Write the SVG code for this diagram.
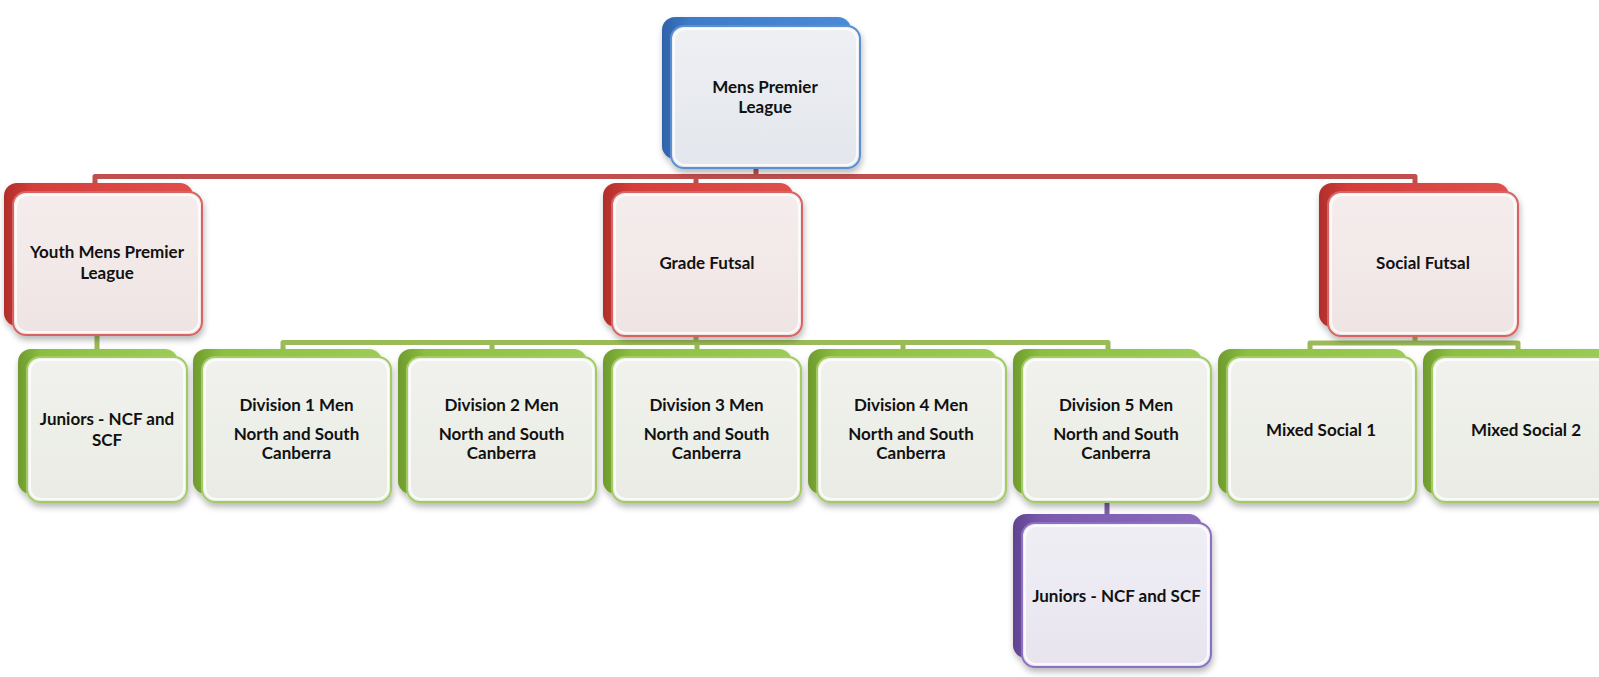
<svg xmlns="http://www.w3.org/2000/svg" width="1599" height="677" viewBox="0 0 1599 677">
<defs>
<filter id="sh" x="-10%" y="-10%" width="125%" height="130%">
<feDropShadow dx="1" dy="4" stdDeviation="3" flood-color="#000" flood-opacity="0.28"/>
</filter>
<linearGradient id="fB" x1="0" y1="0" x2="0" y2="1"><stop offset="0" stop-color="#eef0f4"/><stop offset="1" stop-color="#e3e6ec"/></linearGradient>
<linearGradient id="fR" x1="0" y1="0" x2="0" y2="1"><stop offset="0" stop-color="#f5eded"/><stop offset="1" stop-color="#efe4e4"/></linearGradient>
<linearGradient id="fG" x1="0" y1="0" x2="0" y2="1"><stop offset="0" stop-color="#f1f2ed"/><stop offset="1" stop-color="#e9ebe4"/></linearGradient>
<linearGradient id="fP" x1="0" y1="0" x2="0" y2="1"><stop offset="0" stop-color="#f0eef5"/><stop offset="1" stop-color="#e7e4ee"/></linearGradient>
<linearGradient id="bB" x1="0" y1="0" x2="1" y2="0"><stop offset="0" stop-color="#2f62a8"/><stop offset="0.15" stop-color="#3d7cc9"/><stop offset="1" stop-color="#4a8ad6"/></linearGradient>
<linearGradient id="bR" x1="0" y1="0" x2="1" y2="0"><stop offset="0" stop-color="#b02e2b"/><stop offset="0.15" stop-color="#d43d39"/><stop offset="1" stop-color="#e0504c"/></linearGradient>
<linearGradient id="bG" x1="0" y1="0" x2="1" y2="0"><stop offset="0" stop-color="#6f9a2e"/><stop offset="0.15" stop-color="#8cbf3f"/><stop offset="1" stop-color="#9ccc55"/></linearGradient>
<linearGradient id="bP" x1="0" y1="0" x2="1" y2="0"><stop offset="0" stop-color="#5f4290"/><stop offset="0.15" stop-color="#7a59ad"/><stop offset="1" stop-color="#8a6cbc"/></linearGradient>
</defs>
<style>
.t{font-family:Lato,"Liberation Sans",sans-serif;font-weight:bold;font-size:17px;fill:#111;text-anchor:middle}
.c{fill:none;stroke-width:5;stroke-linejoin:round;stroke-linecap:butt}
.cr{stroke:#c0504d}
.cg{stroke:#9bbb59}
.cp{stroke:#7d5fa8}
.hl{fill:none;stroke:#ffffff;stroke-opacity:0.75;stroke-width:2}
.sB{stroke:#5a8fd2;stroke-width:2}
.sR{stroke:#d96461;stroke-width:2}
.sG{stroke:#a2cb62;stroke-width:2}
.sP{stroke:#8d70c2;stroke-width:2}
</style>

<g id="connectors">
<path class="c cr" d="M95,183 V176.5 H1415 V183 M756,168 V176.5 M696,176.5 V183"/>
<path class="c cg" d="M97,335 V350 M696,336 V342.5 M283,350 V342.5 H1108 V350 M492,342.5 V350 M697,342.5 V350 M903,342.5 V350 M1415,336 V343 M1310,350 V343 H1518 V350"/>
<path class="c cp" d="M1107,502 V515"/>
</g>

<g id="node-mens-premier-league">
<g filter="url(#sh)">
<rect x="662" y="17" width="189" height="142" rx="13" fill="url(#bB)"/>
<rect x="671" y="26" width="189" height="142" rx="13" fill="url(#fB)" class="sB"/>
</g>
<rect class="hl" x="674" y="29" width="183" height="136" rx="11"/>
<text class="t" x="765" y="93">Mens Premier</text>
<text class="t" x="765" y="113">League</text>
</g>

<g id="node-youth-mens-premier-league">
<g filter="url(#sh)">
<rect x="4" y="183" width="189" height="143" rx="13" fill="url(#bR)"/>
<rect x="13" y="192" width="189" height="143" rx="13" fill="url(#fR)" class="sR"/>
</g>
<rect class="hl" x="16" y="195" width="183" height="137" rx="11"/>
<text class="t" x="107" y="258">Youth Mens Premier</text>
<text class="t" x="107" y="279">League</text>
</g>

<g id="node-grade-futsal">
<g filter="url(#sh)">
<rect x="603" y="183" width="190" height="144" rx="13" fill="url(#bR)"/>
<rect x="612" y="192" width="190" height="144" rx="13" fill="url(#fR)" class="sR"/>
</g>
<rect class="hl" x="615" y="195" width="184" height="138" rx="11"/>
<text class="t" x="707" y="269">Grade Futsal</text>
</g>

<g id="node-social-futsal">
<g filter="url(#sh)">
<rect x="1319" y="183" width="190" height="144" rx="13" fill="url(#bR)"/>
<rect x="1328" y="192" width="190" height="144" rx="13" fill="url(#fR)" class="sR"/>
</g>
<rect class="hl" x="1331" y="195" width="184" height="138" rx="11"/>
<text class="t" x="1423" y="269">Social Futsal</text>
</g>

<g id="node-juniors-youth">
<g filter="url(#sh)">
<rect x="18" y="349" width="160" height="145" rx="13" fill="url(#bG)"/>
<rect x="27" y="357" width="160" height="145" rx="13" fill="url(#fG)" class="sG"/>
</g>
<rect class="hl" x="30" y="360" width="154" height="139" rx="11"/>
<text class="t" x="107" y="425">Juniors - NCF and</text>
<text class="t" x="107" y="446">SCF</text>
</g>

<g id="node-division-1">
<g filter="url(#sh)">
<rect x="193" y="349" width="189" height="145" rx="13" fill="url(#bG)"/>
<rect x="202" y="357" width="189" height="145" rx="13" fill="url(#fG)" class="sG"/>
</g>
<rect class="hl" x="205" y="360" width="183" height="139" rx="11"/>
<text class="t" x="296.5" y="411">Division 1 Men</text>
<text class="t" x="296.5" y="440">North and South</text>
<text class="t" x="296.5" y="459">Canberra</text>
</g>

<g id="node-division-2">
<g filter="url(#sh)">
<rect x="398" y="349" width="189" height="145" rx="13" fill="url(#bG)"/>
<rect x="407" y="357" width="189" height="145" rx="13" fill="url(#fG)" class="sG"/>
</g>
<rect class="hl" x="410" y="360" width="183" height="139" rx="11"/>
<text class="t" x="501.5" y="411">Division 2 Men</text>
<text class="t" x="501.5" y="440">North and South</text>
<text class="t" x="501.5" y="459">Canberra</text>
</g>

<g id="node-division-3">
<g filter="url(#sh)">
<rect x="603" y="349" width="189" height="145" rx="13" fill="url(#bG)"/>
<rect x="612" y="357" width="189" height="145" rx="13" fill="url(#fG)" class="sG"/>
</g>
<rect class="hl" x="615" y="360" width="183" height="139" rx="11"/>
<text class="t" x="706.5" y="411">Division 3 Men</text>
<text class="t" x="706.5" y="440">North and South</text>
<text class="t" x="706.5" y="459">Canberra</text>
</g>

<g id="node-division-4">
<g filter="url(#sh)">
<rect x="808" y="349" width="189" height="145" rx="13" fill="url(#bG)"/>
<rect x="817" y="357" width="189" height="145" rx="13" fill="url(#fG)" class="sG"/>
</g>
<rect class="hl" x="820" y="360" width="183" height="139" rx="11"/>
<text class="t" x="911" y="411">Division 4 Men</text>
<text class="t" x="911" y="440">North and South</text>
<text class="t" x="911" y="459">Canberra</text>
</g>

<g id="node-division-5">
<g filter="url(#sh)">
<rect x="1013" y="349" width="189" height="145" rx="13" fill="url(#bG)"/>
<rect x="1022" y="357" width="189" height="145" rx="13" fill="url(#fG)" class="sG"/>
</g>
<rect class="hl" x="1025" y="360" width="183" height="139" rx="11"/>
<text class="t" x="1116" y="411">Division 5 Men</text>
<text class="t" x="1116" y="440">North and South</text>
<text class="t" x="1116" y="459">Canberra</text>
</g>

<g id="node-mixed-social-1">
<g filter="url(#sh)">
<rect x="1218" y="349" width="189" height="145" rx="13" fill="url(#bG)"/>
<rect x="1227" y="357" width="189" height="145" rx="13" fill="url(#fG)" class="sG"/>
</g>
<rect class="hl" x="1230" y="360" width="183" height="139" rx="11"/>
<text class="t" x="1321" y="436">Mixed Social 1</text>
</g>

<g id="node-mixed-social-2">
<g filter="url(#sh)">
<rect x="1423" y="349" width="189" height="145" rx="13" fill="url(#bG)"/>
<rect x="1432" y="357" width="189" height="145" rx="13" fill="url(#fG)" class="sG"/>
</g>
<rect class="hl" x="1435" y="360" width="183" height="139" rx="11"/>
<text class="t" x="1526" y="436">Mixed Social 2</text>
</g>

<g id="node-juniors-division-5">
<g filter="url(#sh)">
<rect x="1013" y="514" width="189" height="144" rx="13" fill="url(#bP)"/>
<rect x="1022" y="523" width="189" height="144" rx="13" fill="url(#fP)" class="sP"/>
</g>
<rect class="hl" x="1025" y="526" width="183" height="138" rx="11"/>
<text class="t" x="1116.5" y="602">Juniors - NCF and SCF</text>
</g>
</svg>
